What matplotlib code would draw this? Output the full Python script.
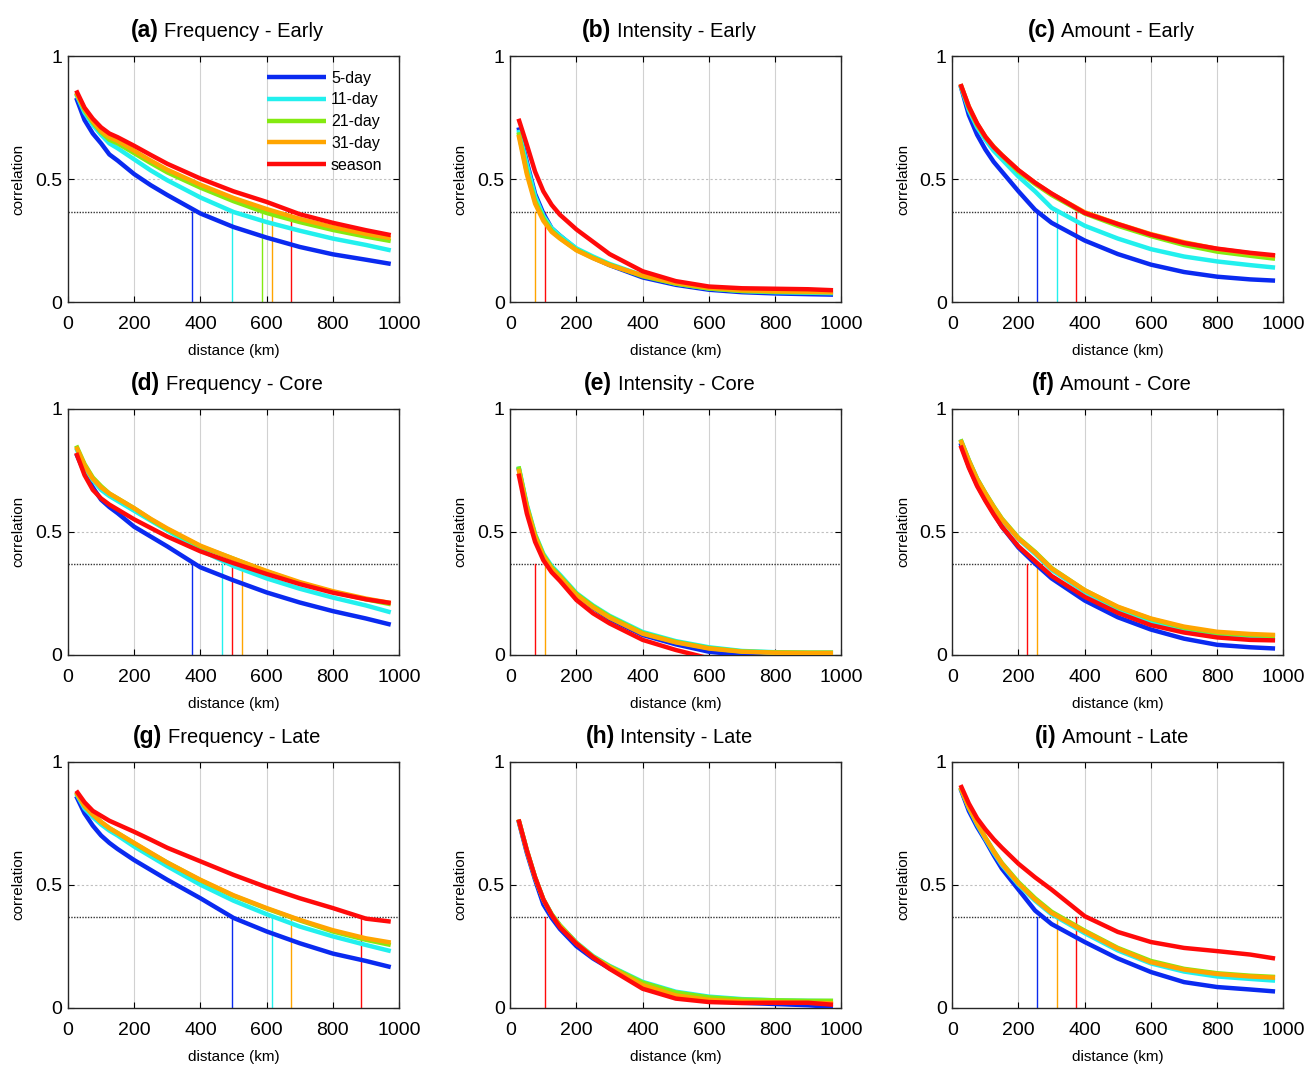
import matplotlib.pyplot as plt
from matplotlib.offsetbox import TextArea, HPacker, AnchoredOffsetbox

plt.rcParams["font.family"] = ["Liberation Sans", "DejaVu Sans"]

# distance bins (km) at which the correlation curves are read
dist = [25, 50, 75, 100, 125, 150, 200, 250, 300, 400, 500, 600, 700, 800, 900, 975]
windows = ["5-day", "11-day", "21-day", "31-day", "season"]
colors = ["#0a2af0", "#22f0ee", "#84ea10", "#ffa500", "#ff0a0a"]
efold_level = 0.368  # 1/e

# each panel: one list per window (5-day, 11-day, 21-day, 31-day, season)
freq_early = [
    [0.83, 0.74, 0.685, 0.645, 0.60, 0.575, 0.52, 0.475, 0.435, 0.36, 0.305, 0.262, 0.224, 0.194, 0.172, 0.155],
    [0.845, 0.77, 0.72, 0.68, 0.645, 0.625, 0.58, 0.535, 0.495, 0.425, 0.366, 0.325, 0.29, 0.258, 0.232, 0.21],
    [0.85, 0.78, 0.73, 0.69, 0.66, 0.645, 0.605, 0.565, 0.527, 0.465, 0.41, 0.362, 0.325, 0.293, 0.266, 0.248],
    [0.85, 0.785, 0.735, 0.695, 0.67, 0.655, 0.615, 0.575, 0.538, 0.477, 0.423, 0.378, 0.338, 0.305, 0.277, 0.26],
    [0.86, 0.79, 0.745, 0.71, 0.685, 0.67, 0.635, 0.598, 0.562, 0.502, 0.45, 0.407, 0.357, 0.322, 0.292, 0.272],
]
int_early = [
    [0.71, 0.57, 0.44, 0.36, 0.30, 0.27, 0.215, 0.18, 0.15, 0.10, 0.07, 0.05, 0.04, 0.035, 0.032, 0.03],
    [0.70, 0.56, 0.43, 0.35, 0.30, 0.27, 0.218, 0.185, 0.155, 0.108, 0.075, 0.055, 0.045, 0.04, 0.038, 0.036],
    [0.69, 0.53, 0.41, 0.34, 0.29, 0.26, 0.212, 0.18, 0.152, 0.105, 0.075, 0.055, 0.045, 0.042, 0.04, 0.04],
    [0.68, 0.52, 0.40, 0.33, 0.285, 0.258, 0.21, 0.178, 0.15, 0.108, 0.078, 0.058, 0.048, 0.044, 0.042, 0.04],
    [0.745, 0.64, 0.53, 0.45, 0.395, 0.355, 0.295, 0.245, 0.195, 0.125, 0.085, 0.063, 0.056, 0.054, 0.052, 0.048],
]
amt_early = [
    [0.88, 0.76, 0.68, 0.62, 0.57, 0.53, 0.45, 0.375, 0.322, 0.25, 0.195, 0.152, 0.122, 0.103, 0.092, 0.087],
    [0.88, 0.78, 0.71, 0.66, 0.615, 0.58, 0.51, 0.45, 0.383, 0.31, 0.258, 0.215, 0.185, 0.165, 0.15, 0.14],
    [0.885, 0.79, 0.72, 0.67, 0.63, 0.595, 0.53, 0.48, 0.435, 0.36, 0.31, 0.268, 0.232, 0.205, 0.188, 0.176],
    [0.885, 0.795, 0.725, 0.672, 0.632, 0.598, 0.535, 0.485, 0.44, 0.365, 0.318, 0.276, 0.243, 0.216, 0.198, 0.186],
    [0.886, 0.794, 0.726, 0.672, 0.63, 0.597, 0.536, 0.485, 0.441, 0.362, 0.317, 0.274, 0.24, 0.217, 0.2, 0.19],
]
freq_core = [
    [0.817, 0.74, 0.68, 0.63, 0.60, 0.575, 0.52, 0.48, 0.44, 0.355, 0.302, 0.253, 0.212, 0.177, 0.147, 0.122],
    [0.84, 0.76, 0.71, 0.67, 0.645, 0.625, 0.585, 0.545, 0.505, 0.425, 0.36, 0.31, 0.268, 0.232, 0.2, 0.172],
    [0.85, 0.775, 0.72, 0.685, 0.655, 0.635, 0.595, 0.55, 0.51, 0.44, 0.39, 0.338, 0.292, 0.255, 0.225, 0.205],
    [0.845, 0.77, 0.715, 0.68, 0.655, 0.635, 0.595, 0.552, 0.513, 0.443, 0.39, 0.34, 0.295, 0.258, 0.228, 0.21],
    [0.82, 0.73, 0.67, 0.635, 0.61, 0.59, 0.55, 0.515, 0.48, 0.42, 0.372, 0.328, 0.287, 0.252, 0.225, 0.21],
]
int_core = [
    [0.76, 0.60, 0.48, 0.40, 0.35, 0.315, 0.24, 0.19, 0.145, 0.08, 0.042, 0.012, -0.002, -0.01, -0.01, -0.01],
    [0.765, 0.61, 0.49, 0.41, 0.36, 0.325, 0.25, 0.20, 0.158, 0.092, 0.055, 0.03, 0.015, 0.01, 0.008, 0.008],
    [0.765, 0.605, 0.487, 0.405, 0.355, 0.32, 0.247, 0.197, 0.155, 0.088, 0.052, 0.027, 0.013, 0.009, 0.008, 0.008],
    [0.755, 0.60, 0.48, 0.40, 0.35, 0.315, 0.242, 0.192, 0.15, 0.085, 0.05, 0.025, 0.012, 0.008, 0.007, 0.007],
    [0.736, 0.574, 0.459, 0.384, 0.335, 0.30, 0.222, 0.168, 0.127, 0.06, 0.019, -0.015, -0.04, -0.05, -0.06, -0.06],
]
amt_core = [
    [0.86, 0.765, 0.69, 0.63, 0.575, 0.52, 0.435, 0.37, 0.31, 0.22, 0.152, 0.102, 0.065, 0.04, 0.03, 0.025],
    [0.875, 0.79, 0.715, 0.655, 0.60, 0.548, 0.47, 0.41, 0.345, 0.255, 0.185, 0.135, 0.10, 0.08, 0.072, 0.07],
    [0.875, 0.79, 0.715, 0.657, 0.603, 0.553, 0.475, 0.418, 0.352, 0.262, 0.193, 0.145, 0.11, 0.089, 0.08, 0.076],
    [0.872, 0.788, 0.713, 0.655, 0.60, 0.55, 0.472, 0.415, 0.35, 0.262, 0.195, 0.147, 0.114, 0.093, 0.084, 0.08],
    [0.85, 0.76, 0.685, 0.625, 0.57, 0.52, 0.44, 0.38, 0.32, 0.235, 0.17, 0.12, 0.09, 0.07, 0.06, 0.058],
]
freq_late = [
    [0.86, 0.79, 0.74, 0.70, 0.67, 0.645, 0.60, 0.56, 0.52, 0.445, 0.365, 0.31, 0.262, 0.22, 0.19, 0.165],
    [0.87, 0.81, 0.775, 0.745, 0.72, 0.70, 0.655, 0.615, 0.575, 0.50, 0.435, 0.38, 0.33, 0.29, 0.255, 0.23],
    [0.875, 0.82, 0.785, 0.755, 0.73, 0.71, 0.668, 0.628, 0.59, 0.518, 0.455, 0.403, 0.355, 0.31, 0.276, 0.255],
    [0.875, 0.82, 0.785, 0.755, 0.73, 0.71, 0.67, 0.63, 0.59, 0.52, 0.457, 0.405, 0.357, 0.315, 0.282, 0.265],
    [0.882, 0.835, 0.80, 0.78, 0.76, 0.745, 0.715, 0.683, 0.65, 0.595, 0.54, 0.49, 0.445, 0.405, 0.362, 0.35],
]
int_late = [
    [0.76, 0.63, 0.52, 0.42, 0.365, 0.32, 0.25, 0.20, 0.16, 0.095, 0.05, 0.03, 0.02, 0.015, 0.01, 0.003],
    [0.765, 0.64, 0.53, 0.44, 0.38, 0.335, 0.265, 0.21, 0.17, 0.105, 0.065, 0.045, 0.035, 0.03, 0.028, 0.027],
    [0.765, 0.64, 0.53, 0.44, 0.38, 0.335, 0.263, 0.208, 0.168, 0.102, 0.062, 0.042, 0.033, 0.03, 0.028, 0.028],
    [0.765, 0.64, 0.53, 0.44, 0.378, 0.332, 0.262, 0.206, 0.165, 0.092, 0.05, 0.032, 0.025, 0.022, 0.02, 0.018],
    [0.765, 0.64, 0.53, 0.44, 0.377, 0.327, 0.26, 0.205, 0.158, 0.077, 0.037, 0.023, 0.019, 0.02, 0.02, 0.012],
]
amt_late = [
    [0.89, 0.80, 0.735, 0.68, 0.62, 0.565, 0.48, 0.395, 0.34, 0.267, 0.20, 0.145, 0.104, 0.084, 0.074, 0.066],
    [0.893, 0.812, 0.745, 0.686, 0.63, 0.58, 0.50, 0.435, 0.38, 0.303, 0.233, 0.18, 0.147, 0.127, 0.117, 0.11],
    [0.895, 0.815, 0.75, 0.692, 0.638, 0.588, 0.51, 0.445, 0.39, 0.313, 0.243, 0.19, 0.158, 0.14, 0.13, 0.125],
    [0.895, 0.815, 0.75, 0.69, 0.635, 0.585, 0.505, 0.44, 0.385, 0.31, 0.24, 0.185, 0.155, 0.137, 0.127, 0.122],
    [0.905, 0.83, 0.77, 0.725, 0.685, 0.65, 0.585, 0.53, 0.48, 0.372, 0.308, 0.267, 0.243, 0.23, 0.216, 0.20],
]

# e-folding distances (km) per window
efold_freq_early = [375, 495, 585, 615, 675]
efold_int_early = [75, 75, 75, 75, 105]
efold_amt_early = [255, 315, 375, 375, 375]
efold_freq_core = [375, 465, 525, 525, 495]
efold_int_core = [105, 105, 105, 105, 75]
efold_amt_core = [225, 255, 255, 255, 225]
efold_freq_late = [495, 615, 675, 675, 885]
efold_int_late = [105, 105, 105, 105, 105]
efold_amt_late = [255, 315, 315, 315, 375]

panels = [
    ("(a)", "Frequency - Early", freq_early, efold_freq_early),
    ("(b)", "Intensity - Early", int_early, efold_int_early),
    ("(c)", "Amount - Early", amt_early, efold_amt_early),
    ("(d)", "Frequency - Core", freq_core, efold_freq_core),
    ("(e)", "Intensity - Core", int_core, efold_int_core),
    ("(f)", "Amount - Core", amt_core, efold_amt_core),
    ("(g)", "Frequency - Late", freq_late, efold_freq_late),
    ("(h)", "Intensity - Late", int_late, efold_int_late),
    ("(i)", "Amount - Late", amt_late, efold_amt_late),
]

fig = plt.figure(figsize=(13.07, 10.65), dpi=100)
lefts = [0.052, 0.3904, 0.7286]
bottoms = [0.7164, 0.3853, 0.0538]
w, h = 0.2533, 0.231

for i, (tag, name, curves, efold) in enumerate(panels):
    ax = fig.add_axes([lefts[i % 3], bottoms[i // 3], w, h])

    # grid
    for gx in [200, 400, 600, 800]:
        ax.axvline(gx, color="0.82", lw=0.8, zorder=0)
    ax.axhline(0.5, color="0.75", lw=0.8, ls=(0, (2, 2)), zorder=0)

    # e-folding level and distances; where several windows share a distance
    # only the last one drawn (the visible one) is kept
    ax.axhline(efold_level, color="0.2", lw=1.0, ls=(0, (1, 1)), zorder=1)
    seen = set()
    for k in range(4, -1, -1):
        if efold[k] in seen:
            continue
        seen.add(efold[k])
        ax.plot([efold[k], efold[k]], [0, efold_level], color=colors[k], lw=1.0, zorder=2)

    for k in range(5):
        ax.plot(dist, curves[k], color=colors[k], lw=3.2, label=windows[k],
                solid_capstyle="butt", zorder=3 + k)

    ax.set_xlim(0, 1000)
    ax.set_ylim(0, 1)
    ax.set_xticks([0, 200, 400, 600, 800, 1000])
    ax.set_yticks([0, 0.5, 1])
    ax.set_yticklabels(["0", "0.5", "1"])
    ax.tick_params(direction="in", top=True, right=True, length=4, width=0.8,
                   labelsize=14)
    ax.tick_params(axis="x", pad=10)
    ax.tick_params(axis="y", pad=4)
    for s in ax.spines.values():
        s.set_linewidth(1.0)
        s.set_color("0.15")
    ax.set_xlabel("distance (km)", fontsize=11, labelpad=8)
    ax.set_ylabel("correlation", fontsize=11, labelpad=7)

    title = HPacker(children=[TextArea(tag, textprops=dict(fontsize=16.5, fontweight="bold")),
                              TextArea(name, textprops=dict(fontsize=14.5))],
                    align="baseline", pad=0, sep=4)
    box = AnchoredOffsetbox(loc="lower center", child=title, pad=0, borderpad=0,
                            frameon=False, bbox_to_anchor=(0.48, 1.055),
                            bbox_transform=ax.transAxes)
    ax.add_artist(box)

    if i == 0:
        ax.legend(loc="upper right", bbox_to_anchor=(0.95, 0.94), borderaxespad=0,
                  frameon=False, fontsize=11.5, handlelength=3.7, handletextpad=0.3,
                  labelspacing=0.42, borderpad=0)

fig.savefig("out.png", dpi=100)
